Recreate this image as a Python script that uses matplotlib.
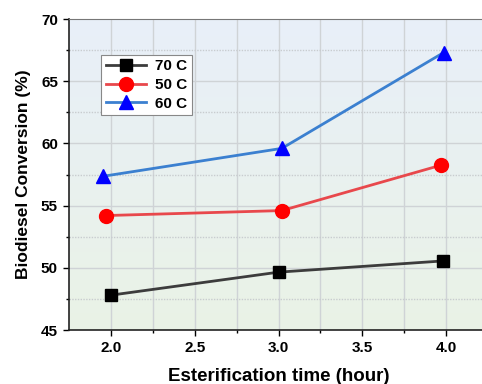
import numpy as np
import matplotlib.pyplot as plt
from matplotlib.colors import LinearSegmentedColormap

# data
x_70 = [2.0, 3.0, 3.98]
y_70 = [47.8, 49.65, 50.55]
x_50 = [1.97, 3.02, 3.97]
y_50 = [54.2, 54.6, 58.25]
x_60 = [1.95, 3.02, 3.985]
y_60 = [57.35, 59.6, 67.3]

plt.rcParams['font.family'] = ['Liberation Sans', 'DejaVu Sans']
plt.rcParams['font.weight'] = 'bold'

fig = plt.figure(figsize=(4.82, 3.84), dpi=100)
ax = fig.add_axes([69 / 482, 1 - 330 / 384, 419 / 482, 311 / 384])
ax.set_xlim(1.75, 4.25)
ax.set_ylim(45, 70)

# background gradient, light blue on top, light green at bottom
cmap = LinearSegmentedColormap.from_list('bg', ['#eaf3e6', '#e8eff9'])
grad = np.linspace(0, 1, 256).reshape(-1, 1)
ax.imshow(grad, cmap=cmap, aspect='auto', origin='lower',
          extent=[0, 1, 0, 1], transform=ax.transAxes, zorder=0)

for v in [2.0, 2.25, 2.5, 2.75, 3.0, 3.25, 3.5, 3.75, 4.0]:
    ax.axvline(v, color='#cfd3d6', lw=1.0, zorder=1)
for v in [50, 55, 60, 65]:
    ax.axhline(v, color='#cfd3d6', lw=1.0, zorder=1)
for v in [47.5, 52.5, 57.5, 62.5, 67.5]:
    ax.axhline(v, color='#c8cccf', lw=1.0, ls=(0, (1, 1)), zorder=1)

ax.plot(x_70, y_70, color='#3c3c3c', lw=2, marker='s', ms=9,
        mfc='black', mec='black', label='70 C', zorder=3)
ax.plot(x_50, y_50, color='#e8484c', lw=2, marker='o', ms=10,
        mfc='#ff0000', mec='#ff0000', label='50 C', zorder=3)
ax.plot(x_60, y_60, color='#3b80d0', lw=2, marker='^', ms=10,
        mfc='#0000ff', mec='#0000ff', label='60 C', zorder=3)

ax.set_xticks([2.0, 2.5, 3.0, 3.5, 4.0])
ax.set_xticks([2.25, 2.75, 3.25, 3.75], minor=True)
ax.set_yticks([45, 50, 55, 60, 65, 70])
ax.set_yticks([47.5, 52.5, 57.5, 62.5, 67.5], minor=True)
ax.tick_params(which='major', direction='out', length=4, width=1,
               labelsize=11, pad=4)
ax.tick_params(which='minor', direction='out', length=2, width=1)
for lab in ax.get_xticklabels() + ax.get_yticklabels():
    lab.set_fontweight('bold')

for s in ['left', 'bottom']:
    ax.spines[s].set_color('#222222')
    ax.spines[s].set_linewidth(1.2)
ax.spines['top'].set_color('#777777')
ax.spines['right'].set_visible(False)

ax.set_xlabel('Esterification time (hour)', fontsize=13.5, fontweight='bold',
              labelpad=9)
ax.set_ylabel('Biodiesel Conversion (%)', fontsize=12.5, fontweight='bold',
              labelpad=7)

leg = ax.legend(loc='upper left', bbox_to_anchor=(0.077, 0.885),
                fontsize=11, frameon=True, fancybox=False,
                edgecolor='#888888', framealpha=1, facecolor='white',
                handlelength=2.6, borderpad=0.3, labelspacing=0.3,
                handletextpad=0.6, borderaxespad=0)
leg.get_frame().set_linewidth(0.8)
for t in leg.get_texts():
    t.set_fontweight('bold')

fig.savefig('out.png', dpi=100)
